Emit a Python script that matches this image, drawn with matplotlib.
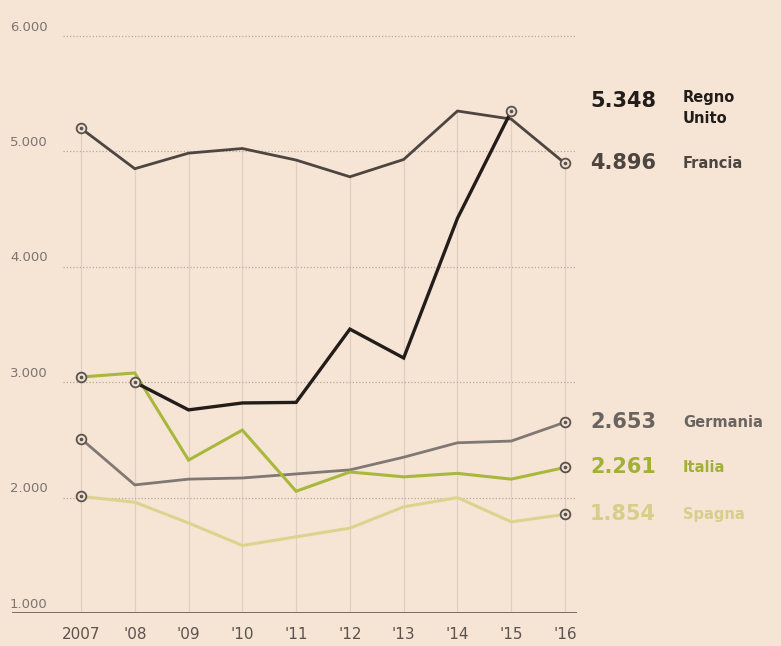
import numpy as np
import matplotlib.pyplot as plt

anni = np.arange(2007, 2017)
etichette_x = ["2007", "'08", "'09", "'10", "'11", "'12", "'13", "'14", "'15", "'16"]

francia = [5200, 4850, 4985, 5025, 4925, 4780, 4930, 5350, 5280, 4896]
regno_unito = [np.nan, 3000, 2760, 2820, 2825, 3460, 3210, 4420, 5348, np.nan]
germania = [2510, 2110, 2160, 2170, 2205, 2240, 2350, 2475, 2490, 2653]
italia = [3045, 3080, 2325, 2585, 2055, 2222, 2180, 2210, 2160, 2261]
spagna = [2010, 1960, 1780, 1585, 1660, 1735, 1920, 2000, 1790, 1854]

tick_y = [1000, 2000, 3000, 4000, 5000, 6000]

sfondo = "#f6e4d5"

# nome, valori, colore linea, colore testo, spessore, posizione etichetta (y)
serie = [
    ("Francia", francia, "#4d4540", "#4d4540", 2.0, 4896),
    ("Germania", germania, "#807873", "#6a6460", 2.0, 2653),
    ("Spagna", spagna, "#dcd48e", "#d6cf8a", 2.2, 1854),
    ("Italia", italia, "#a8b83c", "#a2b036", 2.2, 2261),
    ("Regno\nUnito", regno_unito, "#221d1a", "#221d1a", 2.4, 5440),
]

fig = plt.figure(figsize=(7.81, 6.46), dpi=100, facecolor=sfondo)
W, H = 781, 646
x0, x1 = 12, 577
y_bottom = 613
px_anno = (565 - 81) / 9
px_unita = 115.4 / 1000

ax = fig.add_axes([x0 / W, (H - y_bottom) / H, (x1 - x0) / W, y_bottom / H])
ax.set_facecolor(sfondo)
ax.set_xlim(2007 - (81 - x0) / px_anno, 2016 + (x1 - 565) / px_anno)
ax.set_ylim(1000, 1000 + y_bottom / px_unita)

for s in ax.spines.values():
    s.set_visible(False)
ax.set_xticks([])
ax.set_yticks([])

# linee verticali fino al valore più alto di ogni anno
tutte = np.array([francia, regno_unito, germania, italia, spagna], dtype=float)
massimi = np.nanmax(tutte, axis=0)
ax.vlines(anni, 1000, massimi, color="#e0cfc0", lw=0.9, zorder=1)

# griglia orizzontale punteggiata ed etichette
inizio = (63 - x0) / (x1 - x0)
for v in tick_y[1:]:
    ax.axhline(v, xmin=inizio, xmax=1, color="#b9a99a", lw=0.9,
               linestyle=(0, (1, 1.6)), zorder=1)
for v in tick_y:
    ax.text(2007 - (81 - 10) / px_anno, v + 20, f"{v:,}".replace(",", "."),
            fontsize=9.5, color="#7d7570", ha="left", va="bottom")
ax.axhline(1000, color="#6d6560", lw=1.3, zorder=2)

for i, lab in enumerate(etichette_x):
    ax.text(anni[i], 1000 - 120, lab, fontsize=11, color="#5a534f",
            ha="center", va="top")

for nome, valori, col, col_txt, lw, y_lab in serie:
    valori = np.array(valori, dtype=float)
    ax.plot(anni, valori, color=col, lw=lw, solid_joinstyle="miter", zorder=3)
    validi = np.where(~np.isnan(valori))[0]
    estremi = [validi[0], validi[-1]]
    ax.plot(anni[estremi], valori[estremi], "o", ms=7, mfc="#efe0d0",
            mec="#5a534f", mew=1.3, zorder=5)
    ax.plot(anni[estremi], valori[estremi], "o", ms=1.6, color="#5a534f", zorder=6)
    ultimo = valori[validi[-1]]
    ax.text(2016 + (590 - 565) / px_anno, y_lab, f"{ultimo:,.0f}".replace(",", "."),
            fontsize=15, fontweight="bold", color=col_txt, ha="left", va="center",
            clip_on=False)
    multi = "\n" in nome
    ax.text(2016 + (683 - 565) / px_anno, y_lab + 90 if multi else y_lab,
            nome, fontsize=10.5, fontweight="bold", color=col_txt, ha="left",
            va="top" if multi else "center", linespacing=1.5, clip_on=False)

fig.savefig("out.png", dpi=100, facecolor=sfondo)
